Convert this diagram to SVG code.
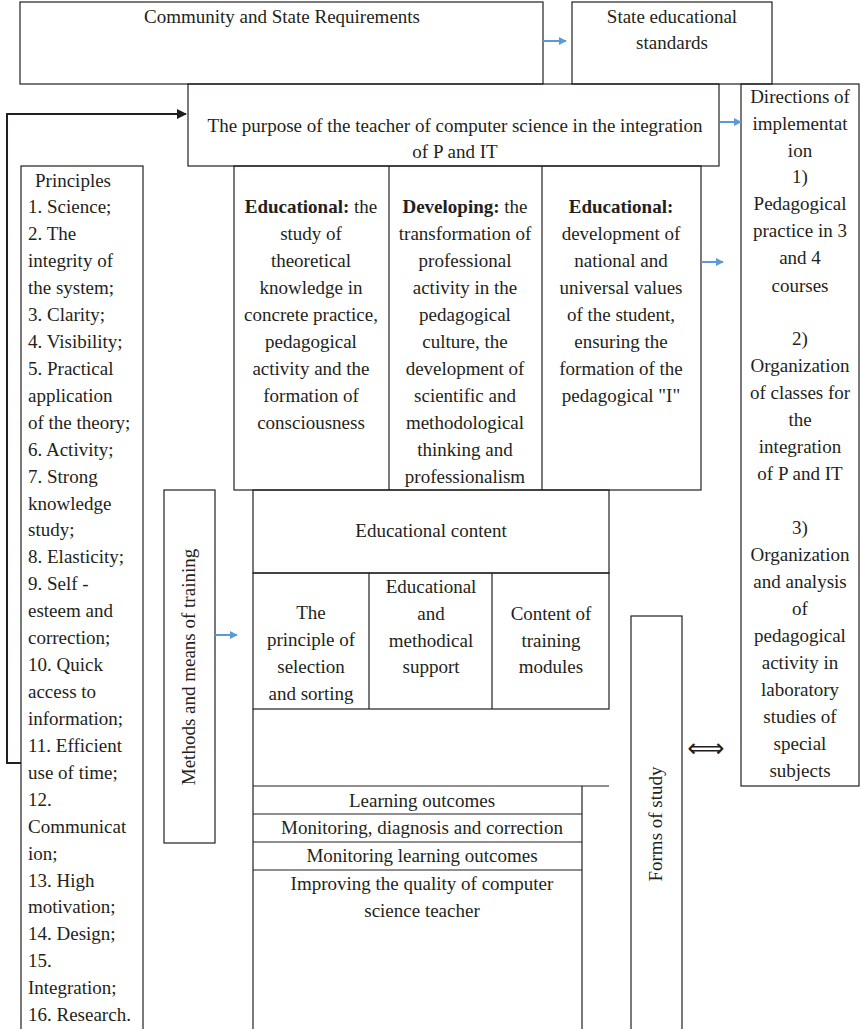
<svg xmlns="http://www.w3.org/2000/svg" width="861" height="1029" viewBox="0 0 861 1029" font-family="Liberation Serif, serif">
<style>
.b{fill:none;stroke:#231f20;stroke-width:1.2}
.l{stroke:#231f20;stroke-width:1.2;fill:none}
text{font-family:'Liberation Serif',serif;font-size:19px;fill:#231f20;text-anchor:middle}
.s text{text-anchor:start}
.blue{stroke:#5b9bd5;stroke-width:2;fill:none;marker-end:url(#ab)}
</style>
<defs>
<marker id="ab" viewBox="0 0 10 10" refX="9" refY="5" markerWidth="4" markerHeight="4" orient="auto" markerUnits="strokeWidth"><path d="M0,0 L10,5 L0,10 z" fill="#5b9bd5"/></marker>
<marker id="ak" viewBox="0 0 10 10" refX="9" refY="5" markerWidth="5" markerHeight="5" orient="auto" markerUnits="strokeWidth"><path d="M0,0 L10,5 L0,10 z" fill="#231f20"/></marker>
</defs>
<g id="community"><rect class="b" x="20" y="2" width="523" height="82"/><text x="282" y="23">Community and State Requirements</text></g>
<g id="standards"><rect class="b" x="572" y="2" width="200" height="82"/><text x="672" y="23">State educational</text><text x="672" y="49">standards</text></g>
<g id="purpose"><rect class="b" x="188" y="84" width="531" height="82"/><text x="455" y="132">The purpose of the teacher of computer science in the integration</text><text x="455" y="158">of P and IT</text></g>
<g id="directions"><rect class="b" x="741" y="84" width="118" height="702"/>
<text x="800" y="103">Directions of</text><text x="800" y="130">implementat</text><text x="800" y="157">ion</text><text x="800" y="183">1)</text><text x="800" y="210">Pedagogical</text><text x="800" y="237">practice in 3</text><text x="800" y="264">and 4</text><text x="800" y="292">courses</text>
<text x="800" y="345">2)</text><text x="800" y="372">Organization</text><text x="800" y="399">of classes for</text><text x="800" y="426">the</text><text x="800" y="453">integration</text><text x="800" y="480">of P and IT</text>
<text x="800" y="534">3)</text><text x="800" y="561">Organization</text><text x="800" y="588">and analysis</text><text x="800" y="615">of</text><text x="800" y="642">pedagogical</text><text x="800" y="669">activity in</text><text x="800" y="696">laboratory</text><text x="800" y="723">studies of</text><text x="800" y="750">special</text><text x="800" y="777">subjects</text></g>
<g id="principles"><rect class="b" x="21" y="166" width="122" height="870"/>
<g class="s">
<text x="35" y="187">Principles</text><text x="28" y="213">1. Science;</text><text x="28" y="240">2. The</text><text x="28" y="267">integrity of</text><text x="28" y="294">the system;</text><text x="28" y="321">3. Clarity;</text><text x="28" y="348">4. Visibility;</text><text x="28" y="375">5. Practical</text><text x="28" y="402">application</text><text x="28" y="429">of the theory;</text><text x="28" y="456">6. Activity;</text><text x="28" y="483">7. Strong</text><text x="28" y="510">knowledge</text><text x="28" y="536">study;</text><text x="28" y="563">8. Elasticity;</text><text x="28" y="590">9. Self -</text><text x="28" y="617">esteem and</text><text x="28" y="644">correction;</text><text x="28" y="671">10. Quick</text><text x="28" y="698">access to</text><text x="28" y="725">information;</text><text x="28" y="752">11. Efficient</text><text x="28" y="779">use of time;</text><text x="28" y="806">12.</text><text x="28" y="833">Communicat</text><text x="28" y="860">ion;</text><text x="28" y="887">13. High</text><text x="28" y="913">motivation;</text><text x="28" y="940">14. Design;</text><text x="28" y="967">15.</text><text x="28" y="994">Integration;</text><text x="28" y="1021">16. Research.</text>
</g></g>
<g id="goals"><rect class="b" x="234" y="166" width="467" height="324"/><line class="l" x1="389" y1="166" x2="389" y2="490"/><line class="l" x1="542" y1="166" x2="542" y2="490"/>
<text x="311" y="213"><tspan font-weight="bold">Educational:</tspan> the</text><text x="311" y="240">study of</text><text x="311" y="267">theoretical</text><text x="311" y="294">knowledge in</text><text x="311" y="321">concrete practice,</text><text x="311" y="348">pedagogical</text><text x="311" y="375">activity and the</text><text x="311" y="402">formation of</text><text x="311" y="429">consciousness</text>
<text x="465" y="213"><tspan font-weight="bold">Developing:</tspan> the</text><text x="465" y="240">transformation of</text><text x="465" y="267">professional</text><text x="465" y="294">activity in the</text><text x="465" y="321">pedagogical</text><text x="465" y="348">culture, the</text><text x="465" y="375">development of</text><text x="465" y="402">scientific and</text><text x="465" y="429">methodological</text><text x="465" y="456">thinking and</text><text x="465" y="483">professionalism</text>
<text x="621" y="213" font-weight="bold">Educational:</text><text x="621" y="240">development of</text><text x="621" y="267">national and</text><text x="621" y="294">universal values</text><text x="621" y="321">of the student,</text><text x="621" y="348">ensuring the</text><text x="621" y="375">formation of the</text><text x="621" y="402">pedagogical "I"</text></g>
<g id="methods"><rect class="b" x="164" y="490" width="51" height="353"/><text transform="translate(195,667) rotate(-90)">Methods and means of training</text></g>
<g id="content"><rect class="b" x="253" y="490" width="356" height="83"/><text x="431" y="537">Educational content</text>
<rect class="b" x="253" y="573" width="356" height="136"/><line class="l" x1="369" y1="573" x2="369" y2="709"/><line class="l" x1="492" y1="573" x2="492" y2="709"/>
<text x="311" y="619">The</text><text x="311" y="646">principle of</text><text x="311" y="673">selection</text><text x="311" y="700">and sorting</text>
<text x="431" y="593">Educational</text><text x="431" y="620">and</text><text x="431" y="647">methodical</text><text x="431" y="673">support</text>
<text x="551" y="620">Content of</text><text x="551" y="647">training</text><text x="551" y="673">modules</text></g>
<g id="outcomes"><line class="l" x1="253" y1="709" x2="253" y2="1029"/><line class="l" x1="253" y1="786" x2="609" y2="786"/><line class="l" x1="582" y1="786" x2="582" y2="1029"/>
<line class="l" x1="253" y1="814" x2="582" y2="814"/><line class="l" x1="253" y1="842" x2="582" y2="842"/><line class="l" x1="253" y1="870" x2="582" y2="870"/>
<text x="422" y="807">Learning outcomes</text><text x="422" y="834">Monitoring, diagnosis and correction</text><text x="422" y="862">Monitoring learning outcomes</text><text x="422" y="890">Improving the quality of computer</text><text x="422" y="917">science teacher</text></g>
<g id="forms"><rect class="b" x="631" y="616" width="51" height="420"/><text transform="translate(662,824) rotate(-90)">Forms of study</text></g>
<g id="connectors">
<line class="blue" x1="543" y1="41" x2="566" y2="41"/>
<line class="blue" x1="720" y1="122" x2="741" y2="122"/>
<line class="blue" x1="701" y1="262" x2="723" y2="262"/>
<line class="blue" x1="215" y1="635" x2="237" y2="635"/>
<polyline points="21,763 7,763 7,114 186,114" fill="none" stroke="#231f20" stroke-width="2" marker-end="url(#ak)"/>
<text x="706" y="757" style="font-size:26px;font-family:'DejaVu Sans',sans-serif">⟺</text>
</g>
</svg>
